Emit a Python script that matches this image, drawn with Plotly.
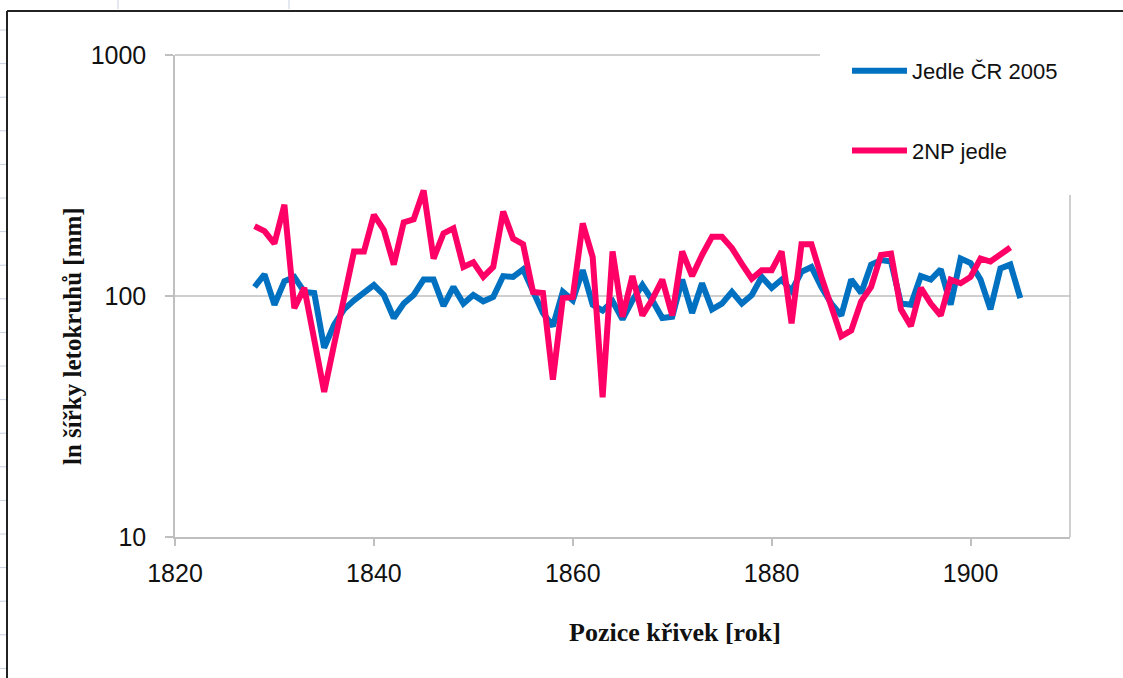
import plotly.graph_objects as go

# ---- data ----
years_cr = list(range(1828, 1906))
jedle_cr_2005 = [109, 123, 92, 115, 120, 104, 103, 61, 76, 88,
                 96, 104, 111, 101, 81, 93, 101, 117, 117, 91,
                 109, 93, 101, 95, 99, 121, 120, 129, 104, 85,
                 75, 104, 96, 128, 92, 87, 95, 80, 96, 111,
                 96, 81, 82, 117, 85, 113, 88, 93, 104, 93,
                 101, 120, 108, 117, 105, 126, 132, 109, 93, 83,
                 117, 103, 135, 141, 139, 93, 92, 121, 117, 129,
                 92, 143, 137, 117, 88, 130, 135, 98]

years_2np = list(range(1828, 1905))
jedle_2np = [195, 186, 165, 239, 89, 108, 66, 40, 63, 98,
             153, 153, 217, 188, 135, 202, 208, 274, 143, 182,
             191, 132, 138, 120, 132, 224, 173, 164, 104, 103,
             45, 98, 99, 200, 145, 38, 153, 82, 121, 83,
             97, 117, 83, 153, 121, 148, 176, 176, 158, 136,
             118, 128, 128, 153, 77, 164, 164, 120, 90, 68,
             72, 95, 109, 148, 150, 88, 75, 108, 93, 83,
             117, 113, 120, 143, 139, 150, 159]

series_names = ["Jedle ČR 2005", "2NP jedle"]
series_colors = ["#0070C0", "#FF0066"]
x_ticks = [1820, 1840, 1860, 1880, 1900]
y_ticks = [10, 100, 1000]
y_ticklabels = ["10", "100", "1000"]
x_title = "Pozice křivek [rok]"
y_title = "ln šířky letokruhů [mm]"

# ---- layout geometry ----
W, H = 1123, 678
L, R, T, B = 175, 53, 55, 141
PW, PH = W - L - R, H - T - B


def px2x(px):
    return (px - L) / PW


def py2y(py):
    return (H - B - py) / PH


fig = go.Figure()
fig.add_trace(go.Scatter(x=years_cr, y=jedle_cr_2005, mode="lines",
                         name=series_names[0], legendgroup="a",
                         line=dict(color=series_colors[0], width=6)))
fig.add_trace(go.Scatter(x=years_2np, y=jedle_2np, mode="lines",
                         name=series_names[1], legendgroup="b",
                         line=dict(color=series_colors[1], width=6)))

grey = "#BFBFBF"
shapes = [
    # gridline at 100
    dict(type="line", xref="paper", yref="paper", x0=0, x1=1, y0=0.5, y1=0.5,
         line=dict(color=grey, width=1.5), layer="below"),
    # top line (1000), interrupted by legend
    dict(type="line", xref="paper", yref="paper", x0=0, x1=px2x(820), y0=1, y1=1,
         line=dict(color=grey, width=1.5), layer="below"),
    # right border
    dict(type="line", xref="paper", yref="paper", x0=1, x1=1, y0=0, y1=py2y(195),
         line=dict(color=grey, width=1.5), layer="below"),
    # outer page frame
    dict(type="line", xref="paper", yref="paper", x0=px2x(7), x1=px2x(7),
         y0=py2y(11), y1=py2y(H + 5), line=dict(color="#222222", width=2)),
    dict(type="line", xref="paper", yref="paper", x0=px2x(7), x1=px2x(W + 5),
         y0=py2y(11), y1=py2y(11), line=dict(color="#222222", width=2)),
]
# faint spreadsheet tick marks at the image edges
for k in range(20):
    yy = 30 + 33.6 * k
    shapes.append(dict(type="line", xref="paper", yref="paper",
                       x0=px2x(0), x1=px2x(6), y0=py2y(yy), y1=py2y(yy),
                       line=dict(color="#C8D0E2", width=1)))
for xx in (118, 289):
    shapes.append(dict(type="line", xref="paper", yref="paper",
                       x0=px2x(xx), x1=px2x(xx), y0=py2y(0), y1=py2y(9),
                       line=dict(color="#C8D0E2", width=1)))

title_font = dict(family="Liberation Serif", size=25, color="#111111", weight="bold")

fig.update_layout(
    width=W, height=H, autosize=False,
    margin=dict(l=L, r=R, t=T, b=B, pad=0),
    paper_bgcolor="white", plot_bgcolor="white",
    font=dict(family="Liberation Sans", color="#111111"),
    showlegend=True,
    legend=dict(x=px2x(847), y=py2y(50), xanchor="left", yanchor="top",
                bgcolor="rgba(255,255,255,0)", borderwidth=0, itemwidth=55,
                font=dict(family="Liberation Sans", size=22, color="#111111"),
                traceorder="grouped", tracegroupgap=48),
    shapes=shapes,
    annotations=[
        dict(text=x_title, xref="paper", yref="paper", x=px2x(675), y=py2y(632),
             xanchor="center", yanchor="middle", showarrow=False,
             font=dict(title_font, size=26)),
        dict(text=y_title, xref="paper", yref="paper", x=px2x(73), y=py2y(336),
             xanchor="center", yanchor="middle", showarrow=False, textangle=-90,
             font=title_font),
    ],
)
fig.update_xaxes(range=[1820, 1910], tickvals=x_ticks, ticks="outside", ticklen=7,
                 tickcolor=grey, tickwidth=1.5, showline=True, linecolor=grey,
                 linewidth=1.5, showgrid=False, zeroline=False,
                 tickfont=dict(family="Liberation Sans", size=25, color="#111111"),
                 ticklabelstandoff=6)
fig.update_yaxes(type="log", range=[1, 3], tickvals=y_ticks, ticktext=y_ticklabels,
                 ticks="outside", ticklen=8, tickcolor=grey, tickwidth=1.5,
                 showline=True, linecolor=grey, linewidth=1.5, showgrid=False,
                 zeroline=False,
                 tickfont=dict(family="Liberation Sans", size=25, color="#111111"),
                 ticklabelstandoff=14)

fig.write_html("out.html", config={"displayModeBar": False},
               post_script="document.body.style.margin='0';")
